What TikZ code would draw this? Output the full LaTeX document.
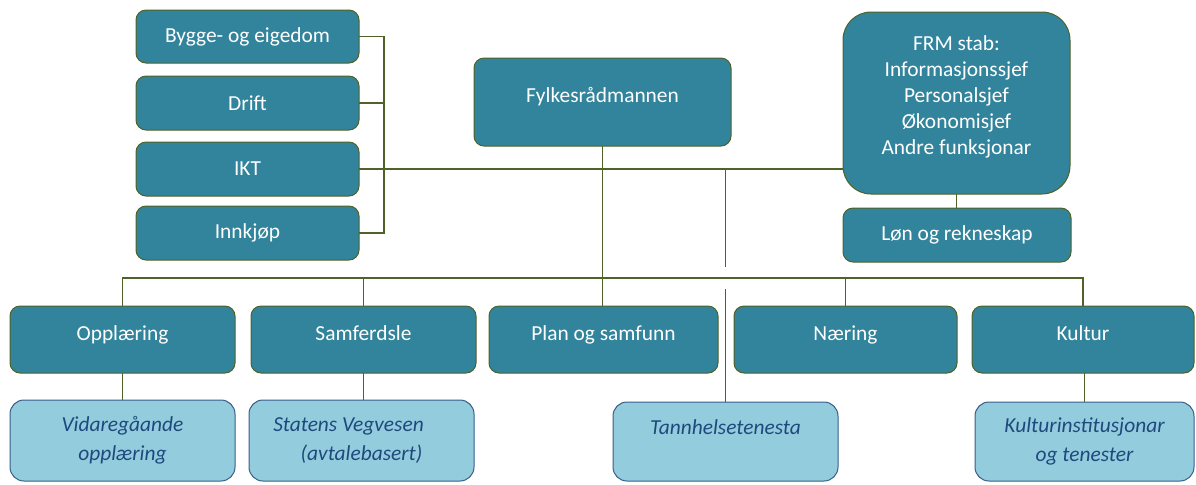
\documentclass[tikz,border=0pt]{standalone}
\usepackage{fontspec}
\setmainfont{Carlito}
\definecolor{darkfill}{HTML}{31849B}
\definecolor{darkedge}{HTML}{4F6228}
\definecolor{lightfill}{HTML}{93CDDD}
\definecolor{lightedge}{HTML}{385D8A}
\definecolor{lighttext}{HTML}{1F497D}
\definecolor{wire}{HTML}{4F6228}
\newcommand\mybox[7]{\node[#1, minimum width={(#4-#2)*0.5pt}, minimum height={(#5-#3)*0.5pt}] (#6) at ({(#2+#4)/2},{(#3+#5)/2}) {#7};}
\tikzset{
  darkbox/.style={draw=darkedge, fill=darkfill, line width=0.5pt, rounded corners=5pt,
    text=white, inner sep=0pt, outer sep=0pt, align=center,
    font=\fontsize{10.7pt}{13pt}\selectfont},
  bigbox/.style={darkbox, rounded corners=14pt},
  lightbox/.style={draw=lightedge, fill=lightfill, line width=0.5pt, rounded corners=7pt,
    text=lighttext, inner sep=0pt, outer sep=0pt, align=center,
    font=\fontsize{10.7pt}{14.5pt}\selectfont\itshape},
  wireline/.style={draw=wire, line width=0.65pt}
}
\begin{document}
\begin{tikzpicture}[x=0.5pt, y=-0.5pt]
\useasboundingbox (0,0) rectangle (1196,484);
% left stack
\mybox{darkbox}{136}{10}{359}{63}{bygge}{Bygge- og eigedom}
\mybox{darkbox}{136}{76}{359}{130}{drift}{Drift}
\mybox{darkbox}{136}{142}{359}{196}{ikt}{IKT}
\mybox{darkbox}{136}{206}{359}{260}{innk}{Innkjøp}
% top
\mybox{darkbox}{474}{58}{731}{146}{fylk}{Fylkesrådmannen\\[-6pt]~}
\mybox{bigbox}{843}{12}{1070}{194}{frm}{FRM stab:\\Informasjonssjef\\Personalsjef\\Økonomisjef\\Andre funksjonar\\[-5pt]~}
\mybox{darkbox}{843}{208}{1071}{262}{lon}{Løn og rekneskap}
% middle row
\mybox{darkbox}{10}{306}{235}{373}{opp}{Opplæring\\[-7pt]~}
\mybox{darkbox}{251}{306}{476}{373}{samf}{Samferdsle\\[-7pt]~}
\mybox{darkbox}{489}{306}{718}{373}{plan}{Plan og samfunn\\[-7pt]~}
\mybox{darkbox}{734}{306}{957}{373}{naer}{Næring\\[-7pt]~}
\mybox{darkbox}{972}{306}{1194}{373}{kult}{Kultur\\[-7pt]~}
% bottom row
\mybox{lightbox}{10}{400}{235}{481}{vid}{Vidaregåande\\opplæring}
\mybox{lightbox}{249}{400}{474}{481}{stat}{Statens Vegvesen\hspace*{26\pgflinewidth}\\(avtalebasert)}
\mybox{lightbox}{613}{402}{838}{481}{tann}{Tannhelsetenesta\\~}
\mybox{lightbox}{975}{402}{1194}{481}{kinst}{Kulturinstitusjonar\\og tenester}
% coordinates
\coordinate (br) at (384,0);
\coordinate (bus) at (0,278);
\coordinate (gapa) at (0,267);
\coordinate (gapb) at (0,289);
% connectors
\draw[wireline] (bygge.east) -- (bygge.east -| br) -- (innk.east -| br) -- (innk.east);
\draw[wireline] (drift.east) -- (drift.east -| br);
\draw[wireline] (ikt.east) -- (ikt.east -| frm.west);
\draw[wireline] (fylk.south) -- (fylk.south |- plan.north);
\draw[wireline] (opp.north) -- (opp.north |- bus) -- (kult.north |- bus) -- (kult.north);
\draw[wireline] (samf.north) -- (samf.north |- bus);
\draw[wireline] (naer.north) -- (naer.north |- bus);
\draw[wireline] (tann.north |- ikt.east) -- (tann.north |- gapa);
\draw[wireline] (tann.north |- gapb) -- (tann.north);
\draw[wireline] (frm.south) -- (frm.south |- lon.north);
\draw[wireline] (opp.south) -- (vid.north);
\draw[wireline] (samf.south) -- (samf.south |- stat.north);
\draw[wireline] (kinst.north |- kult.south) -- (kinst.north);
\end{tikzpicture}
\end{document}
